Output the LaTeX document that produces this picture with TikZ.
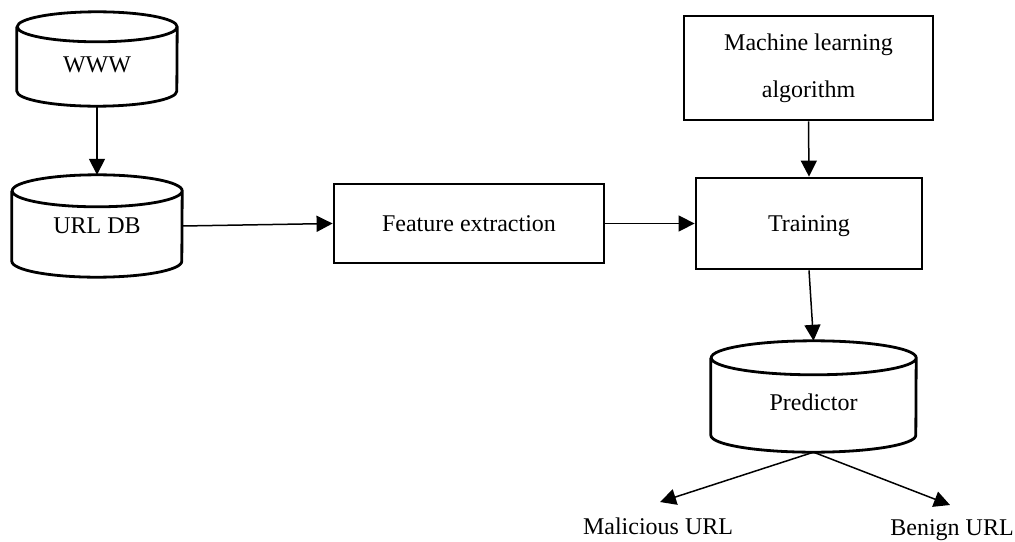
\documentclass[tikz,border=0pt]{standalone}
\usepackage{fontspec}
\setmainfont{Liberation Serif}
\usetikzlibrary{arrows.meta}
\begin{document}
\begin{tikzpicture}[x=1pt, y=1pt, >={Triangle[length=16pt,width=16pt]},
    box/.style={draw, line width=2.8pt, text depth=0pt, font=\fontsize{24}{28}\selectfont},
    dbnode/.style={font=\fontsize{24}{28}\selectfont, inner sep=0pt},
    lbl/.style={font=\fontsize{24}{28}\selectfont, anchor=base},
    arr/.style={->, line width=1.5pt}]
    \useasboundingbox (0,0) rectangle (1015,-541);
    % data stores (cylinders drawn below)
    \node[dbnode, minimum width=160, minimum height=94, text height=27pt] (www) at (97,-59) {WWW};
    \node[dbnode, minimum width=170, minimum height=102] (urldb) at (97,-226) {URL DB};
    \node[dbnode, minimum width=205, minimum height=111, text height=29pt] (pred) at (813.5,-396.5) {Predictor};
    \foreach \nm/\rx/\ry in {www/80/15, urldb/85/16, pred/102.5/17}
      \draw[line width=2.8pt] ([yshift=-\ry]\nm.north west) -- ([yshift=\ry]\nm.south west)
        arc[start angle=180, end angle=360, x radius=\rx, y radius=\ry]
        -- ([yshift=-\ry]\nm.north east)
        arc[start angle=0, end angle=360, x radius=\rx, y radius=\ry];
    % processing steps
    \node[box, minimum width=270, minimum height=79] (fe) at (469,-223.5) {Feature extraction};
    \node[box, minimum width=226, minimum height=91] (train) at (809,-223.5) {Training};
    \node[box, minimum width=249, minimum height=104, align=center, text depth=,
      font=\fontsize{24}{47}\selectfont] (ml) at (808.5,-68) {Machine learning\\algorithm};
    % outputs
    \node[lbl] (mal) at (658,-534) {Malicious URL};
    \node[lbl] (ben) at (952,-535) {Benign URL};
    \coordinate (maltip) at (660,-502);
    \coordinate (bentip) at (950,-505);
    \draw[arr] (www.south) -- (urldb.north);
    \draw[arr] (urldb.east) -- (fe.west);
    \draw[arr] (fe.east) -- (train.west);
    \draw[arr] (ml.south) -- (train.north);
    \draw[arr] (train.south) -- (pred.north);
    \draw[arr] (pred.south) -- (maltip);
    \draw[arr] (pred.south) -- (bentip);
\end{tikzpicture}
\end{document}
